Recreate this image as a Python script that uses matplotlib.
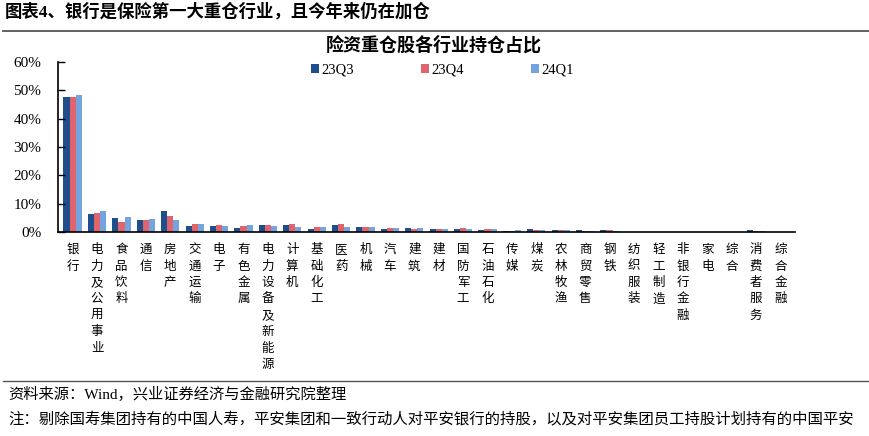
import matplotlib
matplotlib.use("Agg")
import matplotlib.pyplot as plt
import numpy as np

plt.rcParams['font.family'] = ['Liberation Serif', 'Noto Sans CJK SC', 'DejaVu Sans']

categories = ["银行", "电力及公用事业", "食品饮料", "通信", "房地产", "交通运输", "电子", "有色金属",
              "电力设备及新能源", "计算机", "基础化工", "医药", "机械", "汽车", "建筑", "建材",
              "国防军工", "石油石化", "传媒", "煤炭", "农林牧渔", "商贸零售", "钢铁", "纺织服装",
              "轻工制造", "非银行金融", "家电", "综合", "消费者服务", "综合金融"]
q23q3 = [47.6, 6.2, 5.1, 4.1, 7.4, 2.2, 2.2, 1.5, 2.3, 2.4, 1.2, 2.4, 1.8, 1.2, 1.5, 0.9,
         1.0, 0.7, 0.5, 1.0, 0.7, 0.6, 0.6, 0.1, 0.1, 0.05, 0.0, 0.0, 0.6, 0.0]
q23q4 = [47.6, 6.8, 3.5, 4.1, 5.5, 2.9, 2.6, 2.0, 2.3, 2.7, 1.8, 2.7, 1.8, 1.3, 1.2, 1.0,
         1.3, 1.0, 0.5, 0.6, 0.6, 0.5, 0.6, 0.1, 0.1, 0.05, 0.0, 0.0, 0.3, 0.0]
q24q1 = [48.2, 7.4, 5.3, 4.7, 4.1, 2.7, 2.2, 2.3, 2.0, 1.8, 1.8, 1.8, 1.8, 1.5, 1.5, 1.2,
         1.0, 1.0, 0.6, 0.6, 0.6, 0.5, 0.5, 0.1, 0.1, 0.05, 0.0, 0.0, 0.2, 0.0]
series_names = ["23Q3", "23Q4", "24Q1"]
colors = ["#1F4E8C", "#E0646E", "#74A3DE"]
yticks = [0, 10, 20, 30, 40, 50, 60]

fig = plt.figure(figsize=(8.7, 4.36), dpi=100)
W, H = 870, 436

ax = fig.add_axes([58 / W, 1 - 232 / H, (795 - 58) / W, (232 - 62) / H])
x = np.arange(len(categories))
w = 0.25
bars = []
for i, (vals, c, n) in enumerate(zip([q23q3, q23q4, q24q1], colors, series_names)):
    b = ax.bar(x + (i - 1) * w, np.array(vals) / 100.0, width=w, color=c, label=n, linewidth=0)
    bars.append(b)

ax.set_xlim(-0.6, 29.6)
ax.set_ylim(0, 0.6)
ax.set_yticks([v / 100 for v in yticks])
ax.set_yticklabels([f"{v}%" for v in yticks], fontsize=11, family='Liberation Serif')
ax.tick_params(axis='y', direction='in', length=5, width=1, pad=12)
ax.set_xticks(x)
ax.set_xticklabels(["\n".join(c) for c in categories], fontsize=9,
                   family=['Noto Sans CJK SC'], linespacing=1.34, va='top')
ax.tick_params(axis='x', length=0, pad=8)
for s in ['top', 'right']:
    ax.spines[s].set_visible(False)
for s in ['left', 'bottom']:
    ax.spines[s].set_linewidth(1.2)
    ax.spines[s].set_color('black')

leg = ax.legend(handles=bars, labels=series_names, ncol=3, frameon=False,
                loc='center left', bbox_to_anchor=(311 / W, 1 - 70 / H),
                bbox_transform=fig.transFigure, borderpad=0, borderaxespad=0,
                handlelength=0.55, handleheight=0.55, handletextpad=0.15,
                columnspacing=4.6, prop={'family': 'Liberation Serif', 'size': 10.5})

fig.text(434 / W, 1 - 45 / H, "险资重仓股各行业持仓占比", ha='center', va='center',
         fontsize=13, fontweight='bold', family=['Noto Sans CJK SC'])

fig.text(5 / W, 1 - 12 / H, "图表4、银行是保险第一大重仓行业，且今年来仍在加仓", ha='left', va='center',
         fontsize=12.5, fontweight='bold', family=['Liberation Serif', 'Noto Sans CJK SC'])

fig.add_artist(plt.Line2D([3 / W, 1], [1 - 31 / H, 1 - 31 / H], transform=fig.transFigure,
                          color='#555555', linewidth=1.3))
fig.add_artist(plt.Line2D([3 / W, 1], [1 - 381 / H, 1 - 381 / H], transform=fig.transFigure,
                          color='#555555', linewidth=1.0))

fig.text(8 / W, 1 - 394 / H, "资料来源：Wind，兴业证券经济与金融研究院整理", ha='left', va='center',
         fontsize=11, family=['Liberation Serif', 'Noto Sans CJK SC'])
fig.text(8 / W, 1 - 420 / H,
         "注：剔除国寿集团持有的中国人寿，平安集团和一致行动人对平安银行的持股，以及对平安集团员工持股计划持有的中国平安",
         ha='left', va='center', fontsize=11.1, family=['Liberation Serif', 'Noto Sans CJK SC'])

fig.savefig("out.png", dpi=100)
